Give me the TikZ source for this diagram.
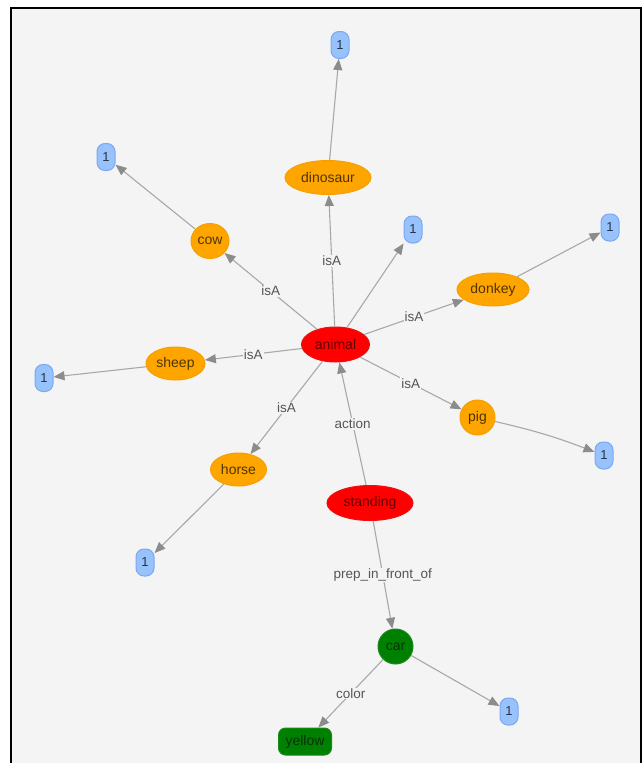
\documentclass[tikz,border=0pt]{standalone}
\usepackage{fontspec}
\setmainfont{Liberation Sans}
\usetikzlibrary{shapes.geometric,arrows.meta}

\definecolor{canvas}{HTML}{F4F4F4}
\definecolor{edgegray}{HTML}{A8A8A8}
\definecolor{tipgray}{HTML}{8C8C8C}
\definecolor{labelgray}{HTML}{555555}
\definecolor{orangefill}{HTML}{FFA500}
\definecolor{orangeline}{HTML}{F5A000}
\definecolor{orangetext}{HTML}{4E3500}
\definecolor{redfill}{HTML}{FF0000}
\definecolor{redline}{HTML}{EE1010}
\definecolor{redtext}{HTML}{5E0000}
\definecolor{greenfill}{HTML}{008000}
\definecolor{greenline}{HTML}{1A8A1A}
\definecolor{greentext}{HTML}{0A300A}
\definecolor{bluefill}{HTML}{97C2FC}
\definecolor{blueline}{HTML}{7AA8F2}
\definecolor{bluetext}{HTML}{26344A}

\tikzset{
  nodefont/.style={font=\fontsize{14}{16}\selectfont},
  concept/.style={ellipse, nodefont, inner sep=0pt, line width=1pt},
  orangenode/.style={concept, fill=orangefill, draw=orangeline, text=orangetext},
  rednode/.style={concept, fill=redfill, draw=redline, text=redtext},
  greencircle/.style={circle, nodefont, inner sep=0pt, minimum size=35pt,
    fill=greenfill, draw=greenline, line width=1pt, text=greentext},
  greenbox/.style={rectangle, rounded corners=7pt, nodefont, inner sep=0pt,
    minimum width=53pt, minimum height=27pt,
    fill=greenfill, draw=greenline, line width=1pt, text=greentext},
  countbox/.style={rectangle, rounded corners=8pt, inner sep=0pt,
    font=\fontsize{13}{15}\selectfont,
    minimum width=18pt, minimum height=27pt,
    fill=bluefill, draw=blueline, line width=1pt, text=bluetext},
  link/.style={draw=edgegray, line width=1.1pt,
    -{Triangle[length=11pt,width=9pt,color=tipgray]}},
  rel/.style={midway, fill=canvas, inner sep=1pt, text=labelgray,
    font=\fontsize{13.5}{15}\selectfont},
}

\begin{document}
\begin{tikzpicture}[x=1pt,y=-1pt]
  \useasboundingbox (0,0) rectangle (642,763);
  % page and framed canvas
  \fill[white] (0,0) rectangle (642,763);
  \fill[canvas] (11,8) rectangle (641,780);
  \draw[black, line width=2pt] (11,780) -- (11,8) -- (641,8) -- (641,780);

  % concept nodes
  \node[rednode, minimum width=68pt, minimum height=35pt] (animal) at (335.5,344.5) {animal};
  \node[rednode, minimum width=86pt, minimum height=35pt] (standing) at (370,503) {standing};
  \node[orangenode, minimum width=86pt, minimum height=34pt] (dinosaur) at (328,177.5) {dinosaur};
  \node[orangenode, minimum width=38pt, minimum height=35pt] (cow) at (210,241) {cow};
  \node[orangenode, minimum width=72pt, minimum height=33pt] (donkey) at (493,289.5) {donkey};
  \node[orangenode, minimum width=59pt, minimum height=33pt] (sheep) at (175.5,363.5) {sheep};
  \node[orangenode, minimum width=56pt, minimum height=33pt] (horse) at (238.5,469.5) {horse};
  \node[orangenode, minimum width=35pt, minimum height=35pt] (pig) at (477.5,417.5) {pig};
  \node[greencircle] (car) at (395.5,646.5) {car};
  \node[greenbox] (yellow) at (305,741.5) {yellow};

  % count nodes
  \node[countbox] (cDino) at (340,45) {1};
  \node[countbox] (cCow) at (106,157) {1};
  \node[countbox] (cAnimal) at (413,229.5) {1};
  \node[countbox] (cDonkey) at (610,227.5) {1};
  \node[countbox] (cSheep) at (44,378) {1};
  \node[countbox] (cPig) at (604,455.5) {1};
  \node[countbox] (cHorse) at (145,562.5) {1};
  \node[countbox] (cCar) at (509,711.5) {1};

  % isA relations
  \draw[link] (animal) -- node[rel] {isA} (dinosaur);
  \draw[link] (animal) -- node[rel] {isA} (cow);
  \draw[link] (animal) -- node[rel] {isA} (donkey);
  \draw[link] (animal) -- node[rel] {isA} (sheep);
  \draw[link] (animal) -- node[rel] {isA} (pig);
  \draw[link] (animal) -- node[rel] {isA} (horse);

  % other relations
  \draw[link] (standing) -- node[rel] {action} (animal);
  \draw[link] (standing) -- node[rel] {prep\_in\_front\_of} (car);
  \draw[link] (car) -- node[rel] {color} (yellow);

  % counts
  \draw[link] (animal) -- (cAnimal);
  \draw[link] (dinosaur) -- (cDino);
  \draw[link] (cow) -- (cCow);
  \draw[link] (donkey) -- (cDonkey);
  \draw[link] (sheep) -- (cSheep);
  \draw[link] (pig) to[bend left=4] (cPig);
  \draw[link] (horse) -- (cHorse);
  \draw[link] (car) -- (cCar);
\end{tikzpicture}
\end{document}
